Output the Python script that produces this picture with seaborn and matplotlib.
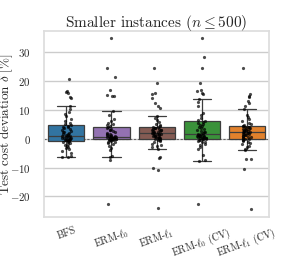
"""Test cost deviation per method, smaller instances."""

import matplotlib

matplotlib.use("Agg")
import matplotlib.pyplot as plt
import pandas as pd
import seaborn as sns

METHODS = ["BFS", r"ERM-$\ell_0$", r"ERM-$\ell_1$", r"ERM-$\ell_0$ (CV)", r"ERM-$\ell_1$ (CV)"]
COLORS = ["tab:blue", "tab:purple", "tab:brown", "tab:green", "tab:orange"]

bfs = [
    -6.5, -6.2, -5.9, -4.8, -4.1, -3.6, -3.2, -2.9, -2.5, -2.1, -1.8, -1.5, -1.2, -1.0, -0.8,
    -0.7,
    -0.6, -0.5, -0.4, -0.3, -0.2, -0.1, 0.0, 0.1, 0.2, 0.4, 0.5, 0.6, 0.8, 0.9,
    1.0,
    1.2, 1.4, 1.6, 1.8, 2.0, 2.3, 2.5, 2.8, 3.0, 3.3, 3.6, 3.9, 4.2, 4.4,
    4.6,
    5.0, 5.6, 6.3, 7.0, 7.8, 8.5, 9.3, 10.4, 11.5, 14.0, 14.5, 15.9, 16.2, 16.4, 20.8,
]
erm_l0 = [
    -22.8, -7.5, -6.4, -6.1, -4.0, -3.3, -2.6, -2.0, -1.6, -1.3, -1.0, -0.8, -0.6, -0.4, -0.3,
    -0.2,
    -0.15, -0.1, -0.05, 0.0, 0.05, 0.1, 0.2, 0.25, 0.3, 0.4, 0.45, 0.5, 0.6, 0.65,
    0.7,
    0.8, 0.9, 1.0, 1.2, 1.4, 1.6, 1.8, 2.0, 2.3, 2.6, 2.9, 3.2, 3.5, 3.8,
    4.0,
    4.3, 4.7, 5.1, 5.6, 6.2, 7.0, 8.1, 9.7, 14.8, 15.0, 15.3, 17.0, 21.5, 24.5, 35.0,
]
erm_l1 = [
    -24.2, -10.8, -10.3, -6.8, -6.5, -3.5, -3.0, -2.6, -2.1, -1.7, -1.3, -0.9, -0.6, -0.4, -0.2,
    -0.1,
    0.0, 0.1, 0.2, 0.3, 0.5, 0.6, 0.8, 0.9, 1.0, 1.2, 1.3, 1.5, 1.6, 1.8,
    1.9,
    2.0, 2.1, 2.3, 2.4, 2.6, 2.7, 2.9, 3.0, 3.2, 3.3, 3.5, 3.6, 3.8, 3.9,
    4.0,
    4.3, 4.7, 5.2, 5.8, 6.5, 7.2, 7.8, 10.5, 11.5, 12.5, 14.0, 15.5, 16.0, 19.5, 24.5,
]
erm_l0_cv = [
    -22.8, -7.8, -7.4, -5.6, -3.5, -2.8, -2.2, -1.7, -1.3, -1.0, -0.8, -0.6, -0.4, -0.2, -0.1,
    0.0,
    0.1, 0.2, 0.3, 0.4, 0.5, 0.6, 0.7, 0.8, 0.9, 1.0, 1.1, 1.2, 1.3, 1.4,
    1.5,
    1.7, 1.9, 2.2, 2.5, 2.8, 3.1, 3.4, 3.7, 4.0, 4.4, 4.8, 5.1, 5.5, 5.8,
    6.0,
    6.5, 7.3, 8.2, 9.0, 11.5, 12.8, 13.7, 15.5, 16.0, 16.5, 17.0, 19.5, 24.5, 28.5, 35.0,
]
erm_l1_cv = [
    -24.3, -10.5, -7.2, -7.0, -3.8, -3.4, -2.9, -2.4, -2.0, -1.6, -1.2, -0.9, -0.6, -0.4, -0.2,
    -0.1,
    0.1, 0.3, 0.5, 0.7, 0.9, 1.0, 1.2, 1.4, 1.5, 1.7, 1.8, 2.0, 2.1, 2.2,
    2.3,
    2.4, 2.6, 2.7, 2.9, 3.0, 3.2, 3.3, 3.5, 3.6, 3.8, 3.9, 4.0, 4.2, 4.3,
    4.4,
    4.7, 5.1, 5.6, 6.2, 6.9, 7.6, 8.4, 10.2, 11.5, 12.5, 13.0, 14.5, 15.0, 15.5, 24.5,
]


def main():
    sns.set_theme(style="whitegrid")
    plt.rcParams["font.family"] = ["cmr10", "DejaVu Serif"]
    plt.rcParams["mathtext.fontset"] = "cm"
    plt.rcParams["axes.formatter.use_mathtext"] = True

    series = [bfs, erm_l0, erm_l1, erm_l0_cv, erm_l1_cv]
    df = pd.DataFrame(
        [(m, v) for m, vals in zip(METHODS, series) for v in vals],
        columns=["method", "delta"],
    )

    fig = plt.figure(figsize=(2.99, 2.56), dpi=100)
    ax = fig.add_axes([0.147, 0.152, 0.753, 0.727])

    ax.axhline(0, color="#666666", ls=(0, (2, 1.5)), lw=0.8, zorder=1)
    sns.boxplot(
        data=df, x="method", y="delta", hue="method", palette=COLORS,
        showfliers=False, linewidth=0.9, legend=False, ax=ax,
    )
    sns.stripplot(
        data=df, x="method", y="delta", color="black", size=2.3,
        alpha=0.7, jitter=0.1, ax=ax,
    )

    ax.set_ylim(-27.2, 37.4)
    ax.set_yticks([-20, -10, 0, 10, 20, 30])
    ax.set_xlabel("")
    # mathtext keeps the rotated label's box tight to the glyphs
    ax.set_ylabel(r"$\mathrm{Test\ cost\ deviation}\ \delta\ [\%]$", fontsize=9.5)
    ax.yaxis.set_label_coords(-0.13, 0.5)
    ax.set_title(r"Smaller instances ($n \leq 500$)", fontsize=11, pad=3)
    ax.tick_params(axis="y", labelsize=7.8, pad=3.5)
    ax.tick_params(axis="x", labelsize=7.2, pad=0)
    plt.setp(ax.get_xticklabels(), rotation=20)
    for s in ax.spines.values():
        s.set_color("#dddddd")

    fig.savefig("out.png", dpi=100)


if __name__ == "__main__":
    main()
